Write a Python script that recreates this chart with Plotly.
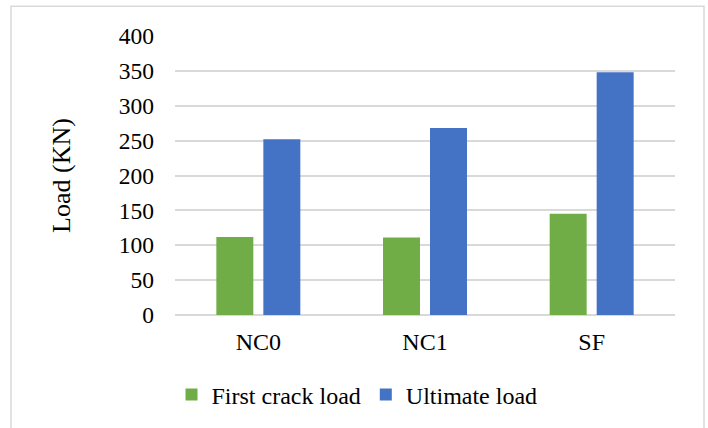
import plotly.graph_objects as go

# Specimen groups and measured loads (kN)
specimens = ["NC0", "NC1", "SF"]
first_crack_load = [112, 111, 145]
ultimate_load = [252, 268, 348]
y_ticks = [0, 50, 100, 150, 200, 250, 300, 350, 400]

font_family = "Liberation Serif, Times New Roman, serif"
grid_color = "#d9d9d9"

fig = go.Figure()
fig.add_trace(go.Bar(
    name="First crack load", x=specimens, y=first_crack_load,
    marker=dict(color="#70AD47", line=dict(width=0)),
))
fig.add_trace(go.Bar(
    name="Ultimate load", x=specimens, y=ultimate_load,
    marker=dict(color="#4472C4", line=dict(width=0)),
))

fig.update_layout(
    width=708, height=428,
    margin=dict(l=175, r=33, t=36, b=112),
    paper_bgcolor="white", plot_bgcolor="white",
    barmode="group", bargap=0.436, bargroupgap=0.213,
    font=dict(family=font_family, size=24, color="#000000"),
    showlegend=True,
    legend=dict(
        orientation="h", x=0.364, xanchor="center", y=-0.282, yanchor="middle",
        font=dict(size=24), itemwidth=30, traceorder="normal",
    ),
    xaxis=dict(
        showgrid=False, zeroline=False, showline=False, ticks="",
        tickfont=dict(size=24), ticklabelstandoff=10,
    ),
    yaxis=dict(
        range=[0, 400], tickvals=y_ticks, showgrid=True, gridcolor=grid_color,
        gridwidth=1.5, zeroline=True, zerolinecolor=grid_color, zerolinewidth=1.5,
        showline=False, ticks="", ticklabelstandoff=20,
        tickfont=dict(size=23.5),
        title=dict(text="Load (KN)", font=dict(size=26), standoff=40),
    ),
    shapes=[dict(
        type="rect", xref="paper", yref="paper",
        x0=-0.328, x1=1.058, y0=-0.42, y1=1.107,
        line=dict(color=grid_color, width=1.5), fillcolor="rgba(0,0,0,0)",
        layer="below",
    )],
)

fig.write_html("out.html")
